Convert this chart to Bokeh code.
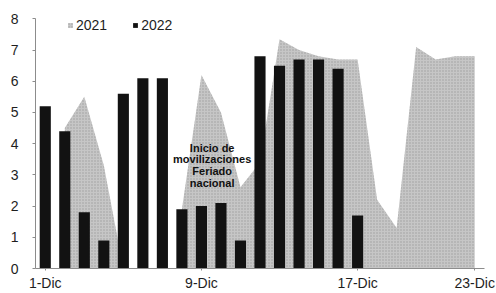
import math
from bokeh.plotting import figure
from bokeh.models import Legend, LegendItem, FixedTicker, Range1d, ColumnDataSource
from bokeh.core.properties import value
from bokeh.embed import file_html
from bokeh.resources import INLINE

nan = float("nan")

# ---- data ----
days = list(range(1, 24))
tick_days = [1, 9, 17, 23]
tick_labels = ["1-Dic", "9-Dic", "17-Dic", "23-Dic"]
y_ticks = [0, 1, 2, 3, 4, 5, 6, 7, 8]
series_2021 = [nan, 4.5, 5.5, 3.3, 0.0, nan, nan, 1.9, 6.2, 5.0, 2.6, 3.4,
               7.35, 7.0, 6.8, 6.7, 6.7, 2.2, 1.3, 7.1, 6.7, 6.8, 6.8]
days_2022 = list(range(1, 18))
series_2022 = [5.2, 4.4, 1.8, 0.9, 5.6, 6.1, 6.1, 1.9, 2.0, 2.1, 0.9,
               6.8, 6.5, 6.7, 6.7, 6.4, 1.7]
note_lines = ["Inicio de", "movilizaciones", "Feriado", "nacional"]

FONT = "Liberation Sans"

p = figure(width=496, height=293, output_backend="svg", toolbar_location=None,
           x_range=Range1d(0.5, 23.5), y_range=Range1d(0, 8.3),
           min_border_left=35, min_border_right=12, min_border_top=9,
           min_border_bottom=23)
p.outline_line_color = None
p.xgrid.visible = False
p.ygrid.visible = False
p.background_fill_color = "white"
p.border_fill_color = "white"

# 2021 area, split into contiguous runs
area_renderers = []
run_x, run_y = [], []
for d, v in zip(days + [None], series_2021 + [nan]):
    if d is not None and not math.isnan(v):
        run_x.append(d)
        run_y.append(v)
    else:
        if run_x:
            r = p.varea(x=run_x, y1=[0] * len(run_x), y2=run_y,
                        fill_color="#c6c6c6", hatch_pattern="dot",
                        hatch_color="#7a7a7a", hatch_scale=3,
                        hatch_weight=0.8, hatch_alpha=0.55)
            area_renderers.append(r)
        run_x, run_y = [], []

# 2022 bars
src = ColumnDataSource(dict(x=days_2022, top=series_2022))
bars = p.vbar(x="x", top="top", width=0.57, bottom=0, source=src,
              fill_color="#121212", line_color=None)

# annotation
p.text(x=[9.55] * len(note_lines), y=[3.87] * len(note_lines), text=note_lines,
       y_offset=[0, 11.7, 23.4, 35.1],
       text_align="center", text_baseline="middle",
       text_font=value(FONT), text_font_size="11px",
       text_font_style="bold", text_color="#111111")

# axes
p.xaxis.ticker = FixedTicker(ticks=tick_days)
p.xaxis.major_label_overrides = {d: l for d, l in zip(tick_days, tick_labels)}
p.yaxis.ticker = FixedTicker(ticks=y_ticks)
p.yaxis.bounds = (0, 8)
for ax in (p.xaxis[0], p.yaxis[0]):
    ax.axis_line_color = "#8c8c8c"
    ax.major_tick_line_color = "#8c8c8c"
    ax.minor_tick_line_color = None
    ax.major_label_text_font = FONT
    ax.major_label_text_font_size = "14px"
    ax.major_label_text_color = "#1e1e1e"
p.xaxis.major_tick_out = 2
p.xaxis.major_tick_in = 0
p.xaxis.major_label_standoff = 4
p.yaxis.major_tick_out = 3
p.yaxis.major_tick_in = 0
p.yaxis.major_label_standoff = 14

legend = Legend(items=[LegendItem(label="2021", renderers=[area_renderers[0]]),
                       LegendItem(label="2022", renderers=[bars])],
                orientation="horizontal", location=(32, 235),
                background_fill_alpha=0, border_line_color=None,
                padding=0, margin=0, spacing=25, label_standoff=3,
                glyph_width=6, glyph_height=6, label_height=16,
                label_text_font=FONT, label_text_font_size="14px",
                label_text_color="#1e1e1e")
p.add_layout(legend)

open("out.html", "w").write(file_html(p, INLINE))
